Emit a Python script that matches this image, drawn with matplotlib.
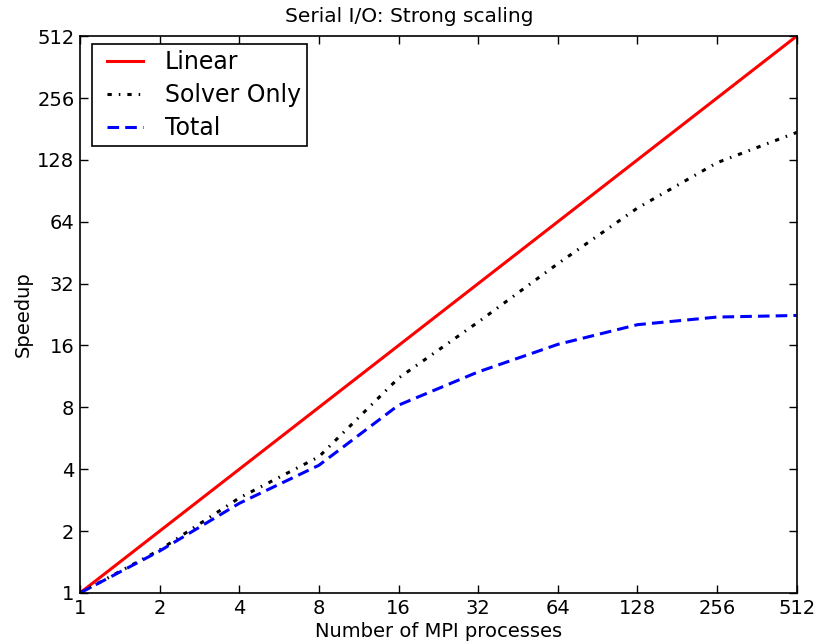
import numpy as np
import matplotlib
matplotlib.use('Agg')
import matplotlib.pyplot as plt
from matplotlib.legend_handler import HandlerLine2D

procs = [1, 2, 4, 8, 16, 32, 64, 128, 256, 512]
linear = [1, 2, 4, 8, 16, 32, 64, 128, 256, 512]
solver_only = [1, 1.62, 2.9, 4.6, 11.1, 20.8, 40, 74.6, 124, 174]
total = [1, 1.6, 2.73, 4.18, 8.2, 11.9, 16.2, 20.2, 22.0, 22.4]
ticks = [1, 2, 4, 8, 16, 32, 64, 128, 256, 512]

plt.rcParams['font.family'] = 'DejaVu Sans'

fig = plt.figure(figsize=(8.19, 6.43), dpi=100)
ax = fig.add_axes([0.0977, 0.0778, 0.875, 0.866])

l1, = ax.plot(procs, linear, color='red', lw=2.2, label='Linear')
l2, = ax.plot(procs, solver_only, color='black', lw=2.2,
              linestyle=(0, (1.4, 2.3, 0.5, 2.3)), label='Solver Only')
l3, = ax.plot(procs, total, color='blue', lw=2.2,
              linestyle=(0, (3.8, 2.0)), label='Total')

ax.set_xscale('log', base=2)
ax.set_yscale('log', base=2)
ax.set_xlim(1, 512)
ax.set_ylim(1, 512)
ax.set_xticks(ticks)
ax.set_xticklabels([str(t) for t in ticks])
ax.set_yticks(ticks)
ax.set_yticklabels([str(t) for t in ticks])
ax.minorticks_off()
ax.tick_params(direction='in', top=True, right=True, length=6, width=1,
               labelsize=14, pad=4)
for s in ax.spines.values():
    s.set_linewidth(1.2)

# title sits a bit left of centre in the original
ax.set_title('Serial I/O: Strong scaling', fontsize=14.5, pad=10, x=0.46)
ax.set_xlabel('Number of MPI processes', fontsize=14, labelpad=3)
ax.set_ylabel('Speedup', fontsize=14, labelpad=3)

hl = HandlerLine2D(xpad=0.38)
leg = ax.legend(loc='upper left', fontsize=17, fancybox=False,
                framealpha=1, edgecolor='black', handlelength=1.9,
                handletextpad=0.93, labelspacing=0.38, borderpad=0.25,
                bbox_to_anchor=(-0.003, 1.011), borderaxespad=0.6,
                handler_map={l1: hl, l2: hl, l3: hl})
leg.get_frame().set_linewidth(1.2)

fig.savefig('out.png', dpi=100)
